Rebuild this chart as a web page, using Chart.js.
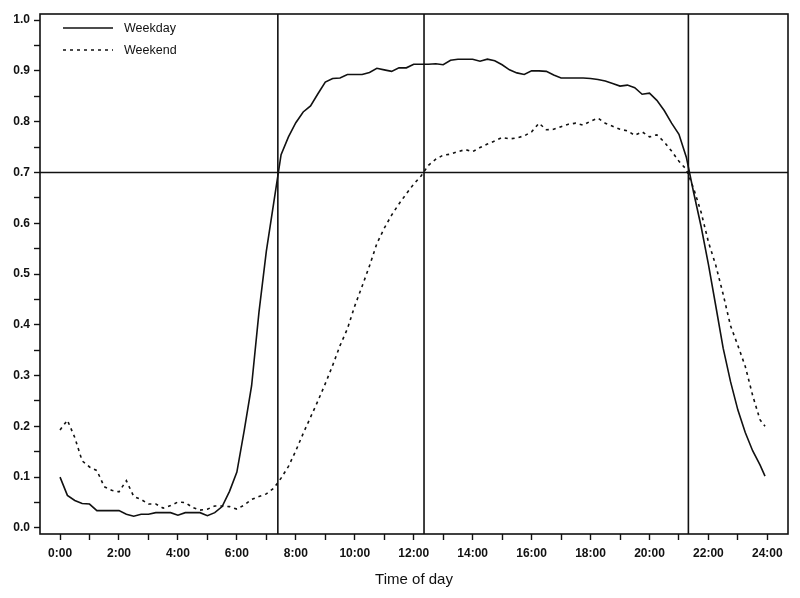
<!DOCTYPE html>
<html>
<head>
<meta charset="utf-8">
<script src="https://cdn.jsdelivr.net/npm/chart.js@4.4.1/dist/chart.umd.min.js"></script>
<style>
    html, body { margin: 0; padding: 0; background: #fff; }
    #contenedor { width: 800px; height: 598px; }
</style>
</head>
<body>
<div id="contenedor"><canvas id="grafica"></canvas></div>
<script>
// --- DATOS ---
const horas = [
    0, 0.25, 0.5, 0.75, 1, 1.25, 1.5, 1.75, 2, 2.25, 2.5, 2.75,
    3, 3.25, 3.5, 3.75, 4, 4.25, 4.5, 4.75, 5, 5.25, 5.5, 5.75,
    6, 6.25, 6.5, 6.75, 7, 7.25, 7.5, 7.75, 8, 8.25, 8.5, 8.75,
    9, 9.25, 9.5, 9.75, 10, 10.25, 10.5, 10.75, 11, 11.25, 11.5, 11.75,
    12, 12.25, 12.5, 12.75, 13, 13.25, 13.5, 13.75, 14, 14.25, 14.5, 14.75,
    15, 15.25, 15.5, 15.75, 16, 16.25, 16.5, 16.75, 17, 17.25, 17.5, 17.75,
    18, 18.25, 18.5, 18.75, 19, 19.25, 19.5, 19.75, 20, 20.25, 20.5, 20.75,
    21, 21.25, 21.5, 21.75, 22, 22.25, 22.5, 22.75, 23, 23.25, 23.5, 23.75, 23.92
];

const weekday = [
    0.100, 0.064, 0.054, 0.048, 0.047, 0.034, 0.034, 0.034, 0.034, 0.027, 0.023, 0.027,
    0.027, 0.030, 0.030, 0.030, 0.025, 0.030, 0.030, 0.030, 0.024, 0.030, 0.042, 0.072,
    0.110, 0.192, 0.280, 0.425, 0.545, 0.640, 0.735, 0.770, 0.798, 0.819, 0.831, 0.855,
    0.878, 0.885, 0.886, 0.893, 0.893, 0.893, 0.897, 0.905, 0.902, 0.899, 0.906, 0.906,
    0.913, 0.913, 0.913, 0.914, 0.912, 0.921, 0.923, 0.923, 0.923, 0.919, 0.923, 0.920,
    0.912, 0.902, 0.896, 0.893, 0.900, 0.900, 0.899, 0.892, 0.886, 0.886, 0.886, 0.886,
    0.885, 0.883, 0.880, 0.875, 0.870, 0.872, 0.867, 0.854, 0.856, 0.842, 0.822, 0.797,
    0.775, 0.730, 0.660, 0.594, 0.519, 0.437, 0.354, 0.288, 0.232, 0.188, 0.152, 0.124, 0.102
];

const weekend = [
    0.193, 0.212, 0.178, 0.132, 0.120, 0.113, 0.081, 0.074, 0.071, 0.093, 0.062, 0.056,
    0.047, 0.047, 0.039, 0.044, 0.051, 0.050, 0.040, 0.035, 0.037, 0.043, 0.043, 0.042,
    0.037, 0.045, 0.056, 0.062, 0.067, 0.078, 0.098, 0.121, 0.152, 0.186, 0.218, 0.250,
    0.284, 0.320, 0.359, 0.392, 0.437, 0.476, 0.516, 0.560, 0.590, 0.616, 0.638, 0.658,
    0.677, 0.693, 0.714, 0.726, 0.734, 0.736, 0.741, 0.745, 0.741, 0.749, 0.756, 0.762,
    0.769, 0.766, 0.768, 0.772, 0.780, 0.797, 0.784, 0.785, 0.790, 0.795, 0.797, 0.793,
    0.801, 0.807, 0.797, 0.791, 0.785, 0.782, 0.773, 0.780, 0.770, 0.774, 0.760, 0.742,
    0.722, 0.706, 0.668, 0.622, 0.563, 0.517, 0.460, 0.398, 0.359, 0.318, 0.261, 0.213, 0.200
];

// lineas de referencia (horas de cruce y umbral)
const cortesHora = [7.39, 12.35, 21.32];
const umbral = 0.7;

// ticks de los ejes
const ticksX = [0, 1, 2, 3, 4, 5, 6, 7, 8, 9, 10, 11, 12, 13, 14, 15, 16, 17, 18, 19, 20, 21, 22, 23, 24];
const etiquetasX = ['0:00', '2:00', '4:00', '6:00', '8:00', '10:00', '12:00', '14:00', '16:00', '18:00', '20:00', '22:00', '24:00'];
const ticksY = [0, 0.05, 0.1, 0.15, 0.2, 0.25, 0.3, 0.35, 0.4, 0.45, 0.5, 0.55, 0.6, 0.65, 0.7, 0.75, 0.8, 0.85, 0.9, 0.95, 1.0];
const etiquetasY = ['0.0', '0.1', '0.2', '0.3', '0.4', '0.5', '0.6', '0.7', '0.8', '0.9', '1.0'];

// limites del area
const X_MIN = -0.68, X_MAX = 24.7;
const Y_MIN = -0.012, Y_MAX = 1.012;

const NEGRO = '#111';
const FUENTE = "'Liberation Sans', Arial, sans-serif";

function aPuntos(xs, ys) {
    return xs.map((x, i) => ({ x: x, y: ys[i] }));
}

const refDatasets = cortesHora.map(h => ({
    label: '',
    data: [{ x: h, y: Y_MIN }, { x: h, y: Y_MAX }],
    borderColor: NEGRO,
    borderWidth: 1.6,
    pointRadius: 0,
    esReferencia: true
}));
refDatasets.push({
    label: '',
    data: [{ x: X_MIN, y: umbral }, { x: X_MAX, y: umbral }],
    borderColor: NEGRO,
    borderWidth: 1.6,
    pointRadius: 0,
    esReferencia: true
});

// --- LEYENDA DENTRO DEL AREA ---
const leyendaInterna = {
    id: 'leyendaInterna',
    afterDraw(chart) {
        const ctx = chart.ctx;
        const area = chart.chartArea;
        const series = chart.data.datasets.filter(d => !d.esReferencia);
        ctx.save();
        series.forEach((ds, i) => {
            const y = area.top + 14 + i * 22;
            ctx.beginPath();
            ctx.strokeStyle = NEGRO;
            ctx.lineWidth = 1.5;
            ctx.setLineDash(ds.borderDash || []);
            ctx.moveTo(area.left + 23, y);
            ctx.lineTo(area.left + 73, y);
            ctx.stroke();
            ctx.setLineDash([]);
            ctx.fillStyle = NEGRO;
            ctx.font = '12.5px ' + FUENTE;
            ctx.textBaseline = 'middle';
            ctx.textAlign = 'left';
            ctx.fillText(ds.label, area.left + 84, y + 1);
        });
        // marco completo
        ctx.strokeStyle = NEGRO;
        ctx.lineWidth = 1.6;
        ctx.strokeRect(area.left, area.top, area.right - area.left, area.bottom - area.top);
        ctx.restore();
    }
};

new Chart(document.getElementById('grafica'), {
    type: 'line',
    data: {
        datasets: [
            {
                label: 'Weekday',
                data: aPuntos(horas, weekday),
                borderColor: NEGRO,
                borderWidth: 1.6,
                pointRadius: 0,
                tension: 0
            },
            {
                label: 'Weekend',
                data: aPuntos(horas, weekend),
                borderColor: NEGRO,
                borderWidth: 1.6,
                borderDash: [3, 4],
                pointRadius: 0,
                tension: 0
            },
            ...refDatasets
        ]
    },
    options: {
        responsive: true,
        maintainAspectRatio: false,
        animation: false,
        layout: { padding: { left: 0, right: 12, top: 14, bottom: 0 } },
        plugins: {
            legend: { display: false },
            tooltip: { enabled: false }
        },
        scales: {
            x: {
                type: 'linear',
                min: X_MIN,
                max: X_MAX,
                afterBuildTicks: (scale) => { scale.ticks = ticksX.map(v => ({ value: v })); },
                afterFit: (scale) => { scale.height = 64; },
                grid: { drawOnChartArea: false, tickLength: 6, color: NEGRO, tickWidth: 1.4 },
                border: { display: false },
                ticks: {
                    autoSkip: false,
                    maxRotation: 0,
                    padding: 6,
                    color: NEGRO,
                    font: { family: FUENTE, size: 12, weight: 'bold' },
                    callback: (v) => (v % 2 === 0 ? etiquetasX[v / 2] : '')
                },
                title: {
                    display: true,
                    text: 'Time of day',
                    color: NEGRO,
                    font: { family: FUENTE, size: 15 },
                    padding: { top: 0, bottom: 9 }
                }
            },
            y: {
                type: 'linear',
                min: Y_MIN,
                max: Y_MAX,
                afterBuildTicks: (scale) => { scale.ticks = ticksY.map(v => ({ value: v })); },
                afterFit: (scale) => { scale.width = 40; },
                grid: { drawOnChartArea: false, tickLength: 6, color: NEGRO, tickWidth: 1.4 },
                border: { display: false },
                ticks: {
                    autoSkip: false,
                    padding: 4,
                    color: NEGRO,
                    font: { family: FUENTE, size: 12, weight: 'bold' },
                    callback: (v) => {
                        const k = Math.round(v * 20);
                        return k % 2 === 0 ? etiquetasY[k / 2] : '';
                    }
                }
            }
        }
    },
    plugins: [leyendaInterna]
});
</script>
</body>
</html>
